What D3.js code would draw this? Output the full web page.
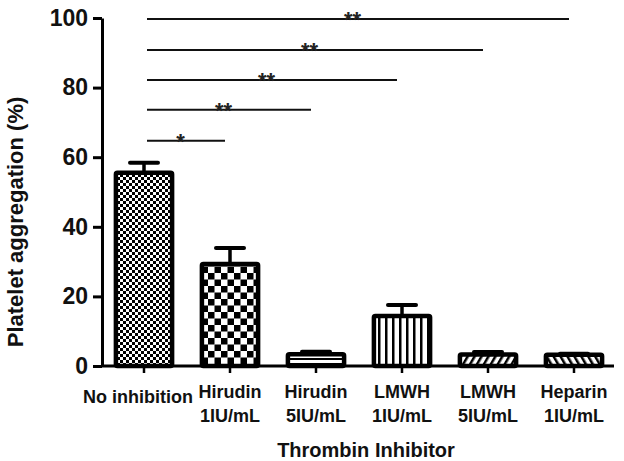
<!DOCTYPE html>
<html><head><meta charset="utf-8">
<script src="https://cdn.jsdelivr.net/npm/d3@7"></script>
<style>body{margin:0;background:#fff}svg{display:block}</style>
</head><body>
<script>
const categories = ["No inhibition", "Hirudin\n1IU/mL", "Hirudin\n5IU/mL", "LMWH\n1IU/mL", "LMWH\n5IU/mL", "Heparin\n1IU/mL"];
const means = [55.5, 29.3, 3.4, 14.4, 3.3, 3.2];
const errors = [2.9, 4.6, 0.7, 3.1, 0.7, 0.3];
const patterns = ["fineCheck", "coarseCheck", "hStripe", "vStripe", "diagR", "diagL"];
const yTicks = [0, 20, 40, 60, 80, 100];
const sigTo = [1, 2, 3, 4, 5];
const sigY = [64.7, 73.6, 82.2, 90.8, 99.7];
const sigLabels = ["*", "**", "**", "**", "**"];

const W = 624, H = 461;
const FONT = "Arial, 'Liberation Sans', sans-serif";
const svg = d3.select("body").append("svg").attr("width", W).attr("height", H);
const defs = svg.append("defs");

function pat(id, w, h, draw, transform) {
  const p = defs.append("pattern").attr("id", id).attr("patternUnits", "userSpaceOnUse")
    .attr("width", w).attr("height", h);
  if (transform) p.attr("patternTransform", transform);
  p.append("rect").attr("width", w).attr("height", h).attr("fill", "#fff");
  draw(p);
}
pat("fineCheck", 6, 6, p => {
  p.append("rect").attr("x", 0).attr("y", 0).attr("width", 3).attr("height", 3).attr("fill", "#000");
  p.append("rect").attr("x", 3).attr("y", 3).attr("width", 3).attr("height", 3).attr("fill", "#000");
});
pat("coarseCheck", 13, 13, p => {
  p.append("rect").attr("x", 0).attr("y", 0).attr("width", 6.5).attr("height", 6.5).attr("fill", "#000");
  p.append("rect").attr("x", 6.5).attr("y", 6.5).attr("width", 6.5).attr("height", 6.5).attr("fill", "#000");
});
pat("hStripe", 10, 5, p => {
  p.append("rect").attr("x", 0).attr("y", 3).attr("width", 10).attr("height", 2).attr("fill", "#000");
});
pat("vStripe", 7, 10, p => {
  p.append("rect").attr("x", 0).attr("y", 0).attr("width", 2.5).attr("height", 10).attr("fill", "#000");
});
pat("diagR", 6, 6, p => {
  p.append("rect").attr("x", 0).attr("y", 0).attr("width", 2.5).attr("height", 6).attr("fill", "#000");
}, "rotate(30)");
pat("diagL", 6, 6, p => {
  p.append("rect").attr("x", 0).attr("y", 0).attr("width", 2.5).attr("height", 6).attr("fill", "#000");
}, "rotate(-30)");

const x = d3.scaleBand().domain(categories).range([101, 617]).paddingInner(0.3).paddingOuter(0.15);
const y = d3.scaleLinear().domain([0, 100]).range([366, 18]);

// bars
const g = svg.append("g");
categories.forEach((c, i) => {
  const cx = x(c) + x.bandwidth() / 2;
  g.append("line").attr("x1", cx).attr("x2", cx).attr("y1", y(means[i])).attr("y2", y(means[i] + errors[i]))
    .attr("stroke", "#000").attr("stroke-width", 3.5);
  g.append("line").attr("x1", cx - 14).attr("x2", cx + 14).attr("y1", y(means[i] + errors[i])).attr("y2", y(means[i] + errors[i]))
    .attr("stroke", "#000").attr("stroke-width", 4).attr("stroke-linecap", "round");
  g.append("rect").attr("x", x(c) + 2).attr("width", x.bandwidth() - 4)
    .attr("y", y(means[i])).attr("height", y(0) - y(means[i]))
    .attr("fill", `url(#${patterns[i]})`).attr("stroke", "#000").attr("stroke-width", 4.5)
    .attr("rx", 1.5);
});

// y axis
const ya = svg.append("g").attr("transform", "translate(102,0)")
  .call(d3.axisLeft(y).tickValues(yTicks).tickSize(9).tickSizeOuter(0).tickPadding(5));
ya.select(".domain").attr("stroke-width", 3);
ya.selectAll(".tick line").attr("stroke-width", 3);
ya.selectAll(".tick text").attr("font-family", FONT).attr("font-weight", "bold")
  .attr("font-size", 23).attr("fill", "#111");

// x axis
const xa = svg.append("g").attr("transform", "translate(0,366)")
  .call(d3.axisBottom(x).tickSize(7).tickSizeOuter(0).tickFormat(""));
xa.select(".domain").attr("stroke-width", 3).attr("d", "M101,0H614");
xa.selectAll(".tick line").attr("stroke-width", 2.5);
xa.selectAll(".tick").each(function(c) {
  const lines = c.split("\n");
  const t = d3.select(this).append("text").attr("fill", "#111")
    .attr("font-family", FONT).attr("font-weight", "bold")
    .attr("font-size", 18).attr("text-anchor", "middle");
  if (lines.length === 1) {
    t.append("tspan").attr("x", -6).attr("y", 37).text(lines[0]);
  } else {
    lines.forEach((l, k) => t.append("tspan").attr("x", 0).attr("y", 32 + k * 24).text(l));
  }
});

// axis titles
svg.append("text").attr("transform", "translate(23,222) rotate(-90)").attr("text-anchor", "middle")
  .attr("font-family", FONT).attr("font-weight", "bold").attr("font-size", 22)
  .attr("fill", "#111").text("Platelet aggregation (%)");
svg.append("text").attr("x", 366).attr("y", 457).attr("text-anchor", "middle")
  .attr("font-family", FONT).attr("font-weight", "bold").attr("font-size", 20)
  .attr("fill", "#111").text("Thrombin Inhibitor");

// significance lines
const c0 = x(categories[0]) + x.bandwidth() / 2;
sigTo.forEach((j, k) => {
  const cj = x(categories[j]) + x.bandwidth() / 2 - 5;
  const yy = y(sigY[k]);
  svg.append("line").attr("x1", c0 + 3).attr("x2", cj).attr("y1", yy).attr("y2", yy)
    .attr("stroke", "#111").attr("stroke-width", 2);
  svg.append("text").attr("x", (c0 + cj) / 2 - 4).attr("y", yy + 8).attr("text-anchor", "middle")
    .attr("font-family", FONT).attr("font-weight", "bold").attr("font-size", 22)
    .attr("fill", "#222").text(sigLabels[k]);
});
</script>
</body></html>
